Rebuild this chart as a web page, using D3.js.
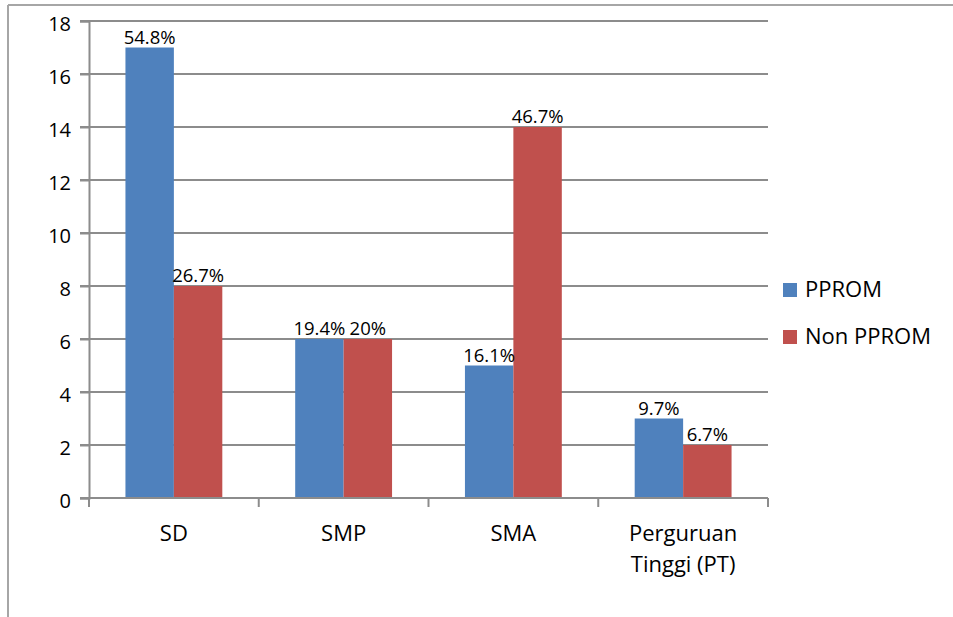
<!DOCTYPE html>
<html>
<head>
<meta charset="utf-8">
<script src="https://cdn.jsdelivr.net/npm/d3@7"></script>
<style>
  body { margin: 0; background: #fff; }
  svg text { font-family: "Open Sans", "Noto Sans", sans-serif; fill: #000; }
</style>
</head>
<body>
<div id="chart"></div>
<script>
// data
const categories = ["SD", "SMP", "SMA", "Perguruan Tinggi (PT)"];
const seriesNames = ["PPROM", "Non PPROM"];
const pprom = [17, 6, 5, 3];
const nonPprom = [8, 6, 14, 2];
const ppromLabels = ["54.8%", "19.4%", "16.1%", "9.7%"];
const nonPpromLabels = ["26.7%", "20%", "46.7%", "6.7%"];
const yTicks = [0, 2, 4, 6, 8, 10, 12, 14, 16, 18];

const colors = ["#4F81BD", "#C0504D"];

const width = 953, height = 617;
const margin = {top: 21, right: 185, bottom: 118, left: 89};

const svg = d3.select("#chart").append("svg")
  .attr("width", width)
  .attr("height", height);

// outer frame (top + left edge of the page border)
svg.append("line")
  .attr("x1", 8).attr("x2", width).attr("y1", 5).attr("y2", 5)
  .attr("stroke", "#a6a6a6").attr("stroke-width", 2);
svg.append("line")
  .attr("x1", 8).attr("x2", 8).attr("y1", 5).attr("y2", height)
  .attr("stroke", "#a6a6a6").attr("stroke-width", 2);

const x0 = d3.scaleBand()
  .domain(categories)
  .range([margin.left, width - margin.right])
  .paddingInner(0)
  .paddingOuter(0);

const groupPad = 0.2147; // Excel gap width ~150%
const x1 = d3.scaleBand()
  .domain(seriesNames)
  .range([x0.bandwidth() * groupPad, x0.bandwidth() * (1 - groupPad)]);

const y = d3.scaleLinear()
  .domain([0, 18])
  .range([height - margin.bottom - 1, margin.top]);

// gridlines
svg.append("g")
  .selectAll("line")
  .data(yTicks.filter(d => d > 0))
  .enter().append("line")
  .attr("x1", margin.left - 9)
  .attr("x2", width - margin.right)
  .attr("y1", d => y(d))
  .attr("y2", d => y(d))
  .attr("stroke", "#8c8c8c")
  .attr("stroke-width", 2);

// y axis
const yAxis = svg.append("g")
  .attr("transform", `translate(${margin.left},0)`)
  .call(d3.axisLeft(y).tickValues(yTicks).tickSize(9).tickPadding(9));
yAxis.select(".domain").attr("stroke", "#8c8c8c").attr("stroke-width", 2);
yAxis.selectAll(".tick line").attr("stroke", "#8c8c8c").attr("stroke-width", 2);
yAxis.selectAll(".tick text")
  .style("font-size", "20px")
  .style("font-family", "'Open Sans', 'Noto Sans', sans-serif")
  .attr("dy", "0.45em");

// bars
const groups = svg.append("g")
  .selectAll("g")
  .data(categories)
  .enter().append("g")
  .attr("transform", d => `translate(${x0(d)},0)`);

const seriesVals = [pprom, nonPprom];
const seriesLbls = [ppromLabels, nonPpromLabels];

groups.selectAll("rect")
  .data((d, i) => seriesNames.map((s, k) => ({s, v: seriesVals[k][i], c: colors[k]})))
  .enter().append("rect")
  .attr("x", d => x1(d.s))
  .attr("width", x1.bandwidth())
  .attr("y", d => y(d.v))
  .attr("height", d => y(0) - y(d.v))
  .attr("fill", d => d.c);

groups.selectAll("text.val")
  .data((d, i) => seriesNames.map((s, k) => ({s, v: seriesVals[k][i], t: seriesLbls[k][i]})))
  .enter().append("text")
  .attr("class", "val")
  .attr("x", d => x1(d.s) + x1.bandwidth() / 2)
  .attr("y", d => y(d.v) - 4)
  .attr("text-anchor", "middle")
  .style("font-size", "18.5px")
  .text(d => d.t);

// x axis
const xAxis = svg.append("g")
  .attr("transform", `translate(0,${y(0)})`);
xAxis.append("line")
  .attr("x1", margin.left - 9).attr("x2", width - margin.right)
  .attr("y1", 0).attr("y2", 0)
  .attr("stroke", "#8c8c8c").attr("stroke-width", 2);
xAxis.selectAll("line.tick")
  .data(d3.range(categories.length + 1))
  .enter().append("line")
  .attr("class", "tick")
  .attr("x1", i => margin.left + i * x0.bandwidth())
  .attr("x2", i => margin.left + i * x0.bandwidth())
  .attr("y1", 0).attr("y2", 9)
  .attr("stroke", "#8c8c8c").attr("stroke-width", 2);

// category labels, wrapped like the original
const catLines = {"Perguruan Tinggi (PT)": ["Perguruan", "Tinggi (PT)"]};
xAxis.selectAll("text.cat")
  .data(categories)
  .enter().append("text")
  .attr("class", "cat")
  .attr("x", d => x0(d) + x0.bandwidth() / 2)
  .attr("y", 43)
  .attr("text-anchor", "middle")
  .style("font-size", "22px")
  .each(function(d) {
    const lines = catLines[d] || [d];
    d3.select(this).selectAll("tspan")
      .data(lines)
      .enter().append("tspan")
      .attr("x", x0(d) + x0.bandwidth() / 2)
      .attr("dy", (l, i) => i === 0 ? 0 : 31)
      .text(l => l);
  });

// legend
const legend = svg.append("g")
  .attr("transform", "translate(783,283)");
legend.selectAll("rect")
  .data(seriesNames)
  .enter().append("rect")
  .attr("x", 0)
  .attr("y", (d, i) => i * 47)
  .attr("width", 14)
  .attr("height", 14)
  .attr("fill", (d, i) => colors[i]);
legend.selectAll("text")
  .data(seriesNames)
  .enter().append("text")
  .attr("x", 22)
  .attr("y", (d, i) => i * 47 + 14)
  .style("font-size", "22px")
  .text(d => d);
</script>
</body>
</html>
